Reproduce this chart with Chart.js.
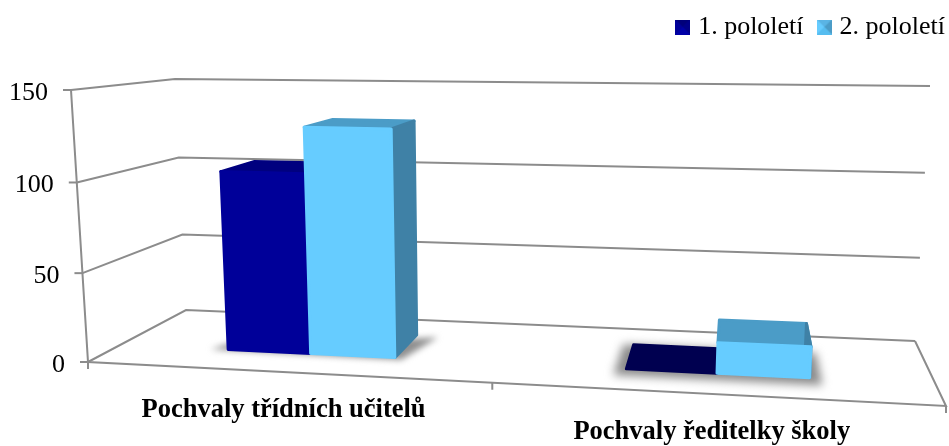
<!DOCTYPE html>
<html><head><meta charset="utf-8">
<style>html,body{margin:0;padding:0;background:#fff}#w{width:949px;height:446px;position:relative}</style>
<script src="https://cdn.jsdelivr.net/npm/chart.js@4"></script>
</head><body><div id="w"><canvas id="c"></canvas></div>
<script>
const categories = ['Pochvaly třídních učitelů', 'Pochvaly ředitelky školy'];
const seriesNames = ['1. pololetí', '2. pololetí'];
const firstHalf = [103, 0];
const secondHalf = [129, 17];
const yTicks = [0, 50, 100, 150];
const serif = '"Liberation Serif", serif';

const palette = [
  {front:'#000099', top:'#00007f', flat:'#000050', side:'#00006b'},
  {front:'#66ccff', top:'#4b9cc7', flat:'#4b9cc7', side:'#3f81a6'}
];
// 3D box of the chart: screen corners of the projected plot
const C = {
  FLb:[88,362], FLt:[71,90], FRb:[946,406], FRt:[964,106],
  BLb:[186,310], BLt:[175,79], BRb:[915,341], BRt:[930,86]
};
const mix=(a,b,t)=>[a[0]+(b[0]-a[0])*t,a[1]+(b[1]-a[1])*t];
const K=1.10, W0=0.34, W1=0.74;
function proj(u,v,w){
  const p=u/(u+K*(1-u));
  const q=v-0.03*v*(1-v);
  const fb=mix(C.FLb,C.FRb,p), ft=mix(C.FLt,C.FRt,p);
  const bb=mix(C.BLb,C.BRb,p), bt=mix(C.BLt,C.BRt,p);
  return mix(mix(fb,ft,q),mix(bb,bt,q),w);
}
function poly(ctx,pts){ctx.beginPath();pts.forEach((p,i)=>i?ctx.lineTo(p[0],p[1]):ctx.moveTo(p[0],p[1]));ctx.closePath();}
function line(ctx,pts){ctx.beginPath();pts.forEach((p,i)=>i?ctx.lineTo(p[0],p[1]):ctx.moveTo(p[0],p[1]));ctx.stroke();}
function face(ctx,pts,col){ctx.fillStyle=col;ctx.strokeStyle=col;ctx.lineWidth=3;ctx.lineJoin='round';poly(ctx,pts);ctx.fill();ctx.stroke();}

function icon(base,top,left,right,bottom){
  const s=15,c=document.createElement('canvas');c.width=s;c.height=s;const g=c.getContext('2d');
  const tri=(pts,col)=>{g.fillStyle=col;g.beginPath();pts.forEach((p,i)=>i?g.lineTo(p[0],p[1]):g.moveTo(p[0],p[1]));g.closePath();g.fill();};
  g.fillStyle=base;g.fillRect(0,0,s,s);
  tri([[0,0],[s,0],[s/2,s/2]],top);
  tri([[0,0],[0,s],[s/2,s/2]],left);
  tri([[s,0],[s,s],[s/2,s/2]],right);
  tri([[0,s],[s,s],[s/2,s/2]],bottom);
  return c;
}
const icons=[icon('#000099','#00007a','#000099','#000088','#0000a8'),icon('#66ccff','#5ab4e4','#66ccff','#4b9cc7','#56bdf0')];

const stage={
  id:'stage',
  beforeDatasetsDraw(chart){
    const ctx=chart.ctx,a=chart.chartArea,sx=chart.scales.x,sy=chart.scales.y;
    const U=px=>(px-a.left)/a.width, V=py=>(a.bottom-py)/a.height;
    ctx.save();
    ctx.strokeStyle='#8c8c8c';ctx.lineWidth=2;ctx.lineCap='butt';
    // walls and grid
    sy.ticks.forEach(t=>{
      const v=V(sy.getPixelForValue(t.value));
      line(ctx,[proj(0,v,0),proj(0,v,1),proj(1,v,1)]);
      const p=proj(0,v,0);
      line(ctx,[[p[0]-8,p[1]],p]);
    });
    line(ctx,[proj(0,1,0),proj(0,0,0),proj(1,0,0),proj(1,0,1)]);
    [0,.495,1].forEach(u=>{const p=proj(u,0,0);line(ctx,[p,[p[0],p[1]+7]]);});
    // tick labels
    ctx.fillStyle='#000';ctx.font='26px '+serif;ctx.textAlign='right';ctx.textBaseline='middle';
    sy.ticks.forEach(t=>{
      const p=proj(0,V(sy.getPixelForValue(t.value)),0);
      ctx.fillText(String(t.value),p[0]-23,p[1]+3);
    });
    ctx.font='bold 26.5px '+serif;ctx.textAlign='center';
    categories.forEach((c,i)=>{
      const p=proj(U(sx.getPixelForValue(i)),0,0);
      ctx.fillText(c,p[0]-4,p[1]+38);
    });
    // shadows then bars, category by category
    categories.forEach((c,i)=>{
      const m0=chart.getDatasetMeta(0).data[i],m1=chart.getDatasetMeta(1).data[i];
      const l=U(m0.x-m0.width/2),r=U(m1.x+m1.width/2);
      const flat=Math.min(V(m0.y),V(m1.y))<0.01;
      ctx.save();
      ctx.filter=flat?'blur(5px)':'blur(3px)';
      ctx.fillStyle=flat?'#8a8a8a':'#8f8f8f';
      const ex=flat?.013:.0,ew=flat?.05:0;
      const sh=flat
        ?[proj(l-ex,0,W0-ew-.06),proj(r+ex,0,W0-ew-.06),proj(r+ex,0,W1),proj(l-ex,0,W1)]
        :[proj(l-.022,0,W0-.01),proj(r+.01,0,W0-.03),proj(r+.03,0,W1-.02),proj(r+.01,0,W1-.05),proj(l-.01,0,W0+.1)];
      poly(ctx,sh);ctx.fill();
      ctx.restore();
      [m0,m1].forEach((b,d)=>{
        const x0=U(b.x-b.width/2),x1=U(b.x+b.width/2),v=V(b.y),col=palette[d];
        const f=(u,vv,w)=>proj(u,vv,w);
        face(ctx,[f(x0,v,W0),f(x1,v,W0),f(x1,v,W1),f(x0,v,W1)],v<0.005?col.flat:col.top);
        face(ctx,[f(x1,0,W0),f(x1,0,W1),f(x1,v,W1),f(x1,v,W0)],col.side);
        if(v>=0.005) face(ctx,[f(x0,0,W0),f(x1,0,W0),f(x1,v,W0),f(x0,v,W0)],col.front);
      });
    });
    ctx.restore();
    return false;
  }
};

new Chart(document.getElementById('c'),{
  type:'bar',
  data:{labels:categories,datasets:[
    {label:seriesNames[0],data:firstHalf,backgroundColor:palette[0].front,pointStyle:icons[0]},
    {label:seriesNames[1],data:secondHalf,backgroundColor:palette[1].front,pointStyle:icons[1]}
  ]},
  plugins:[stage],
  options:{
    responsive:true,maintainAspectRatio:false,animation:false,
    layout:{padding:{left:100,right:-14,top:-4,bottom:60}},
    scales:{
      x:{grid:{display:false},border:{display:false},ticks:{display:false}},
      y:{min:0,max:150,afterBuildTicks(s){s.ticks=yTicks.map(value=>({value}));},
         grid:{display:false},border:{display:false},ticks:{display:false}}
    },
    datasets:{bar:{categoryPercentage:.43,barPercentage:1}},
    plugins:{
      tooltip:{enabled:false},
      legend:{position:'top',align:'end',
        labels:{usePointStyle:true,boxWidth:5,boxHeight:16,padding:18,color:'#000',font:{family:serif,size:26}}}
    }
  }
});
</script></body></html>
